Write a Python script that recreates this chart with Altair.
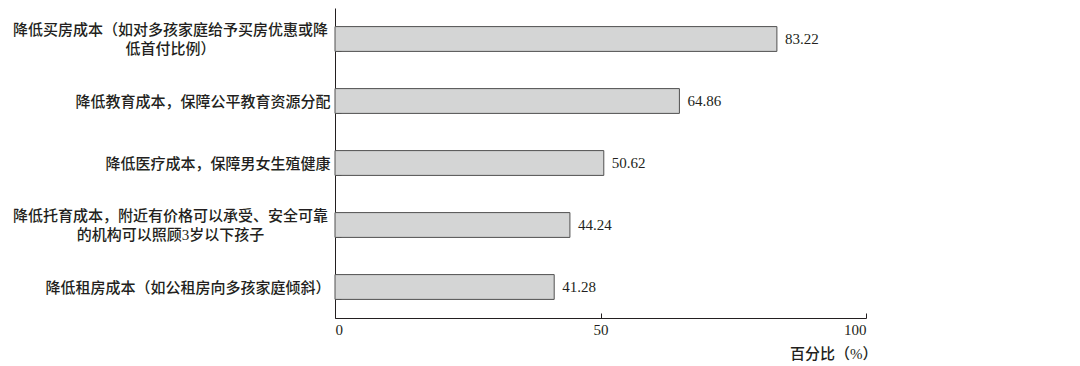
import altair as alt
import pandas as pd

categories = [
    "降低买房成本（如对多孩家庭给予买房优惠或降\n低首付比例）",
    "降低教育成本，保障公平教育资源分配",
    "降低医疗成本，保障男女生殖健康",
    "降低托育成本，附近有价格可以承受、安全可靠\n的机构可以照顾3岁以下孩子",
    "降低租房成本（如公租房向多孩家庭倾斜）",
]
values = [83.22, 64.86, 50.62, 44.24, 41.28]
x_ticks = [0, 50, 100]
x_title = "百分比（%）"

df = pd.DataFrame({"category": categories, "value": values})

INK = "#231f20"
FONT = "Liberation Serif, Noto Sans CJK SC"
W, H = 531, 310

x_axis = alt.Axis(
    values=x_ticks, title=x_title, grid=False,
    domainColor=INK, domainWidth=1, tickColor=INK, tickWidth=1,
    tickSize={"expr": "-5"}, labelPadding=9,
    labelFont=FONT, labelFontSize=15, labelColor=INK,
    titleFont=FONT, titleFontSize=15, titleFontWeight=500, titleColor=INK,
    titleAnchor="end", titleAlign="right", titleBaseline="middle",
    titleX=W + 11, titleY=35,
)
x_enc = alt.X("value:Q", scale=alt.Scale(domain=[0, 100]), axis=x_axis)

y_scale = alt.Scale(paddingInner=0.6, paddingOuter=0.3)

axis_a = alt.Axis(
    title=None, domain=True, domainColor=INK, domainWidth=1,
    ticks=True, tickBand="extent", tickSize={"expr": "-6"}, tickColor=INK, tickWidth=1,
    labelExpr="indexof(datum.label, '\\n') >= 0 ? '' : datum.label",
    labelAlign="right", labelBaseline="middle", labelPadding=11, labelLimit=0,
    labelFont=FONT, labelFontSize=15, labelFontWeight=500, labelColor=INK,
)
axis_b = alt.Axis(
    title=None, orient="left", domain=False, ticks=False,
    labelExpr="indexof(datum.label, '\\n') >= 0 ? split(datum.label, '\\n') : ''",
    labelAlign="center", labelBaseline="middle", labelPadding=165, labelLimit=0,
    labelLineHeight=19, labelOffset=-9,
    labelFont=FONT, labelFontSize=15, labelFontWeight=500, labelColor=INK,
)

bars = alt.Chart(df).mark_bar(
    fill="#d4d5d5", stroke="#505050", strokeWidth=1
).encode(
    x=x_enc,
    y=alt.Y("category:N", sort=categories, scale=y_scale, axis=axis_a),
)

texts = alt.Chart(df).mark_text(
    align="left", baseline="middle", dx=8, font=FONT, fontSize=15, color=INK
).encode(
    x=x_enc,
    y=alt.Y("category:N", sort=categories, scale=y_scale, axis=axis_b),
    text=alt.Text("value:Q", format=".2f"),
)

chart = alt.layer(bars, texts).resolve_axis(y="independent").properties(
    width=W, height=H,
    autosize=alt.AutoSizeParams(type="none"),
    padding={"left": 327, "top": 0, "right": 40, "bottom": 48},
    background="white",
).configure_view(stroke=None)

chart.save("out.html", embed_options={"renderer": "svg", "actions": False})
